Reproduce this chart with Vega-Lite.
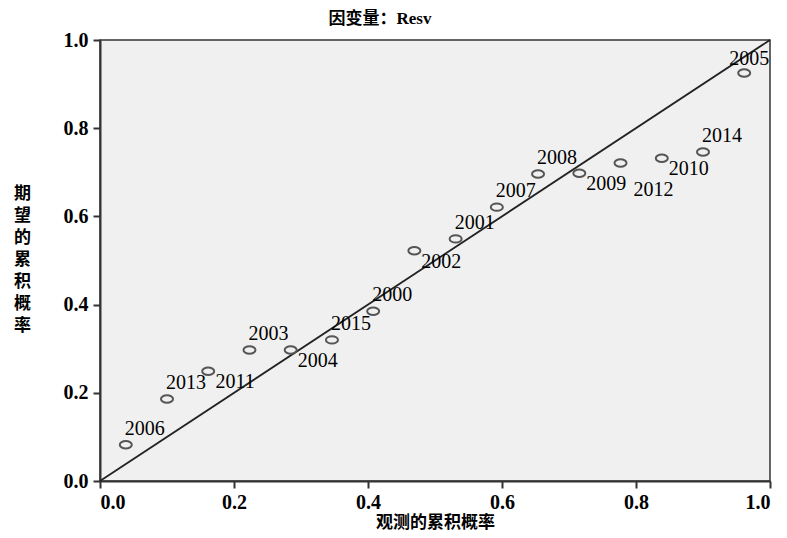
{
  "$schema": "https://vega.github.io/schema/vega-lite/v6.json",
  "autosize": "none",
  "width": 670,
  "height": 441,
  "padding": {"left": 100, "top": 40, "right": 17, "bottom": 57},
  "background": "white",
  "title": {
    "text": "因变量：Resv",
    "font": "Liberation Serif, Noto Sans CJK SC",
    "fontSize": 17,
    "fontWeight": "bold",
    "color": "#000",
    "anchor": "middle",
    "dx": -55,
    "offset": 2
  },
  "config": {
    "view": {"fill": "#f0f0f0", "stroke": "#333", "strokeWidth": 1.5}
  },
  "datasets": {
    "pts": [
      {"year": "2006", "observed": 0.0385, "expected": 0.082},
      {"year": "2013", "observed": 0.1000, "expected": 0.186},
      {"year": "2011", "observed": 0.1615, "expected": 0.249},
      {"year": "2003", "observed": 0.2231, "expected": 0.297},
      {"year": "2004", "observed": 0.2846, "expected": 0.297},
      {"year": "2015", "observed": 0.3462, "expected": 0.320},
      {"year": "2000", "observed": 0.4077, "expected": 0.385},
      {"year": "2002", "observed": 0.4692, "expected": 0.522},
      {"year": "2001", "observed": 0.5308, "expected": 0.549},
      {"year": "2007", "observed": 0.5923, "expected": 0.621},
      {"year": "2008", "observed": 0.6538, "expected": 0.696},
      {"year": "2009", "observed": 0.7154, "expected": 0.698},
      {"year": "2012", "observed": 0.7769, "expected": 0.721},
      {"year": "2010", "observed": 0.8385, "expected": 0.732},
      {"year": "2014", "observed": 0.9000, "expected": 0.746},
      {"year": "2005", "observed": 0.9615, "expected": 0.925}
    ],
    "diag": [
      {"observed": 0, "expected": 0},
      {"observed": 1, "expected": 1}
    ]
  },
  "encoding": {
    "x": {
      "field": "observed", "type": "quantitative",
      "scale": {"domain": [0, 1], "nice": false},
      "axis": {
        "values": [0, 0.2, 0.4, 0.6, 0.8, 1.0], "format": ".1f",
        "grid": false, "domainColor": "#333", "domainWidth": 2, "tickColor": "#333", "tickWidth": 2, "tickSize": 7,
        "labelFont": "Liberation Serif", "labelFontSize": 20, "labelFontWeight": "bold", "labelColor": "#000", "labelPadding": 4,
        "title": "观测的累积概率", "titleFont": "Noto Sans CJK SC", "titleFontSize": 17, "titleFontWeight": "bold", "titleColor": "#000", "titlePadding": 2
      }
    },
    "y": {
      "field": "expected", "type": "quantitative",
      "scale": {"domain": [0, 1], "nice": false},
      "axis": {
        "values": [0, 0.2, 0.4, 0.6, 0.8, 1.0], "format": ".1f",
        "grid": false, "domainColor": "#333", "domainWidth": 2, "tickColor": "#333", "tickWidth": 2, "tickSize": 7,
        "labelFont": "Liberation Serif", "labelFontSize": 20, "labelFontWeight": "bold", "labelColor": "#000", "labelPadding": 5,
        "title": ["期", "望", "的", "累", "积", "概", "率"],
        "titleFont": "Noto Sans CJK SC", "titleFontSize": 17, "titleFontWeight": "bold", "titleColor": "#000",
        "titleAngle": 0, "titleAlign": "center", "titleBaseline": "top",
        "titleX": -78, "titleY": 145, "titleLineHeight": 22
      }
    }
  },
  "layer": [
    {
      "data": {"name": "diag"},
      "mark": {"type": "line", "color": "#222", "strokeWidth": 1.8}
    },
    {
      "data": {"name": "pts"},
      "mark": {"type": "point", "shape": "M-1,0A1,0.62 0 1,0 1,0A1,0.62 0 1,0 -1,0Z", "size": 144, "filled": false, "stroke": "#555", "strokeWidth": 2, "opacity": 1}
    },
    {
      "data": {"name": "pts"},
      "transform": [{"filter": {"field": "year", "oneOf": ["2006", "2013", "2003", "2015", "2000", "2001", "2007", "2008", "2014"]}}],
      "mark": {"type": "text", "font": "Liberation Serif", "fontSize": 20, "color": "#000", "align": "center", "baseline": "middle", "dx": 19, "dy": -16},
      "encoding": {"text": {"field": "year"}}
    },
    {
      "data": {"name": "pts"},
      "transform": [{"filter": {"field": "year", "oneOf": ["2011", "2004", "2002", "2009", "2010"]}}],
      "mark": {"type": "text", "font": "Liberation Serif", "fontSize": 20, "color": "#000", "align": "center", "baseline": "middle", "dx": 27, "dy": 11},
      "encoding": {"text": {"field": "year"}}
    },
    {
      "data": {"name": "pts"},
      "transform": [{"filter": {"field": "year", "equal": "2012"}}],
      "mark": {"type": "text", "font": "Liberation Serif", "fontSize": 20, "color": "#000", "align": "center", "baseline": "middle", "dx": 33, "dy": 27},
      "encoding": {"text": {"field": "year"}}
    },
    {
      "data": {"name": "pts"},
      "transform": [{"filter": {"field": "year", "equal": "2005"}}],
      "mark": {"type": "text", "font": "Liberation Serif", "fontSize": 20, "color": "#000", "align": "center", "baseline": "middle", "dx": 5, "dy": -14},
      "encoding": {"text": {"field": "year"}}
    }
  ]
}
